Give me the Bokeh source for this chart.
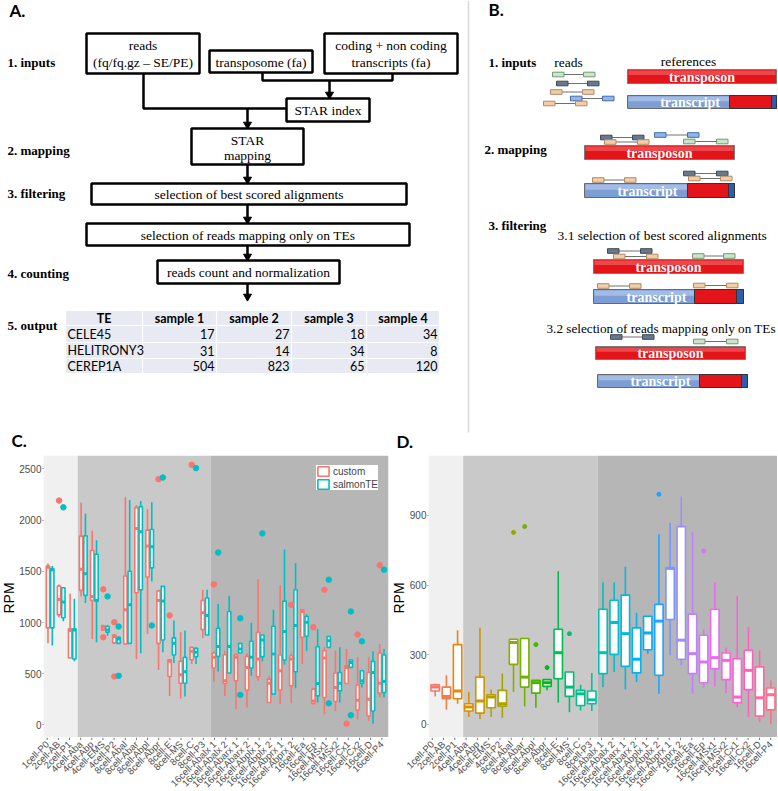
import numpy as np
from math import pi
from bokeh.plotting import figure
from bokeh.models import Range1d, FixedTicker, Legend, LegendItem, ColumnDataSource
from bokeh.layouts import column, row
from bokeh.embed import file_html
from bokeh.resources import INLINE
from bokeh.core.properties import value

# ---------------- data ----------------
categories = ["1cell-P0", "2cell-AB", "2cell-P1", "4cell-Aba", "4cell-Abp", "4cell-EMS", "4cell-P2",
              "8cell-Abal", "8cell-Abar", "8cell-Abpl", "8cell-Abpr", "8cell-E", "8cell-MS", "8cell-C", "8cell-P3",
              "16cell-Abalx 1", "16cell-Abalx 2", "16cell-Abarx 1", "16cell-Abarx 2", "16cell-Abplx 1",
              "16cell-Abplx 2", "16cell-Abprx 1", "16cell-Abprx 2", "16cell-Ea", "16cell-Ep", "16cell-MSx1",
              "16cell-MSx2", "16cell-Cx1", "16cell-Cx2", "16cell-D", "16cell-P4"]
stage_groups = [["1cell", "2cell"], ["4cell", "8cell"], ["16cell"]]
stage_colors = ["#F0F0F0", "#C9C9C9", "#B6B6B6"]

# table of panel A
te_names = ["CELE45", "HELITRONY3", "CEREP1A"]
sample_names = ["sample 1", "sample 2", "sample 3", "sample 4"]
sample1 = [17, 31, 504]
sample2 = [27, 14, 823]
sample3 = [18, 34, 65]
sample4 = [34, 8, 120]

# panel C: custom
custom_q1 = [948, 1075, 654, 1314, 1216, 928, 801, 791, 1291, 1444, 797, 474, 408, 637, 931, 556, 405, 431, 340, 471,
             219, 340, 382, 856, 209, 268, 229, 405, 147, 88, 311]
custom_med = [1540, 1225, 921, 1520, 1255, 954, 863, 1124, 1918, 1748, 1216, 621, 490, 719, 1095, 660, 431, 660, 562,
              644, 408, 529, 644, 1108, 235, 654, 366, 562, 242, 252, 408]
custom_q3 = [1552, 1356, 938, 1843, 1706, 970, 879, 1454, 2121, 1902, 1307, 637, 621, 758, 1216, 703, 686, 686, 670,
             905, 448, 683, 676, 1124, 350, 725, 507, 578, 392, 513, 703]
custom_lo = [797, 1050, 654, 1255, 840, 920, 790, 781, 644, 889, 536, 284, 258, 595, 850, 421, 284, 154, 170, 431, 219,
             203, 212, 595, 209, 105, 137, 405, 56, 39, 268]
custom_hi = [1575, 1370, 1281, 2170, 1895, 975, 885, 2222, 2147, 2105, 1320, 637, 905, 758, 1320, 720, 725, 700, 700,
             1422, 480, 1363, 700, 1130, 360, 760, 725, 742, 660, 660, 791]
custom_out_cat = [2, 6, 6, 7, 7, 11, 12, 14, 16, 23, 25, 26, 28, 29, 31]
custom_out_val = [2190, 1324, 856, 1003, 474, 2399, 1069, 2539, 1373, 1173, 954, 1320, 13, 882, 1559]

# panel C: salmonTE
salmon_q1 = [948, 1046, 644, 1265, 1209, 905, 797, 797, 1320, 1533, 830, 683, 408, 667, 879, 670, 507, 703, 556, 667,
             301, 634, 520, 866, 284, 758, 333, 562, 408, 137, 317]
salmon_med = [1516, 1200, 928, 1477, 1216, 928, 840, 1173, 1886, 1739, 1209, 797, 520, 709, 1069, 765, 765, 742, 660,
              830, 693, 912, 971, 1003, 405, 823, 408, 611, 431, 513, 425]
salmon_q3 = [1526, 1340, 938, 1846, 1667, 961, 856, 1500, 2131, 1908, 1353, 850, 660, 748, 1239, 944, 1108, 797, 817,
             879, 964, 1209, 1320, 1059, 765, 863, 513, 634, 529, 621, 683]
salmon_lo = [775, 1013, 621, 1190, 807, 870, 790, 797, 699, 1400, 709, 605, 278, 595, 879, 523, 507, 703, 480, 621,
             301, 588, 359, 725, 219, 758, 219, 562, 366, 13, 268]
salmon_hi = [1552, 1345, 1232, 2065, 1804, 975, 860, 2196, 2186, 2173, 1353, 1020, 921, 758, 1320, 1180, 1258, 797,
             997, 880, 1124, 1712, 1582, 1080, 938, 870, 758, 634, 540, 720, 742]
salmon_out_cat = [2, 6, 7, 7, 10, 11, 14, 16, 18, 18, 20, 26, 26, 28, 28, 29, 31]
salmon_out_val = [2124, 1255, 961, 480, 971, 2415, 2507, 1683, 1042, 294, 1870, 1418, 212, 1108, 95, 817, 1516]

# panel D
d_q1 = [144, 111, 111, 58, 49, 72, 79, 259, 161, 135, 164, 197, 121, 82, 89, 219, 302, 250, 222, 322, 212, 452, 281,
        219, 180, 240, 193, 94, 150, 36, 63]
d_med = [161, 120, 144, 75, 101, 118, 89, 353, 204, 180, 180, 309, 161, 132, 106, 309, 439, 391, 281, 394, 445, 672,
         363, 305, 269, 288, 276, 118, 233, 115, 128]
d_q3 = [171, 161, 344, 89, 204, 128, 147, 367, 370, 190, 193, 410, 226, 147, 144, 496, 535, 557, 416, 466, 517, 675,
        852, 475, 384, 496, 308, 283, 319, 248, 157]
d_lo = [121, 63, 89, 32, 24, 32, 29, 140, 78, 72, 147, 94, 53, 60, 58, 161, 226, 151, 183, 305, 132, 298, 255, 132,
        158, 164, 135, 75, 32, 10, 3]
d_hi = [175, 212, 406, 140, 416, 151, 219, 367, 370, 190, 193, 660, 226, 171, 222, 612, 612, 679, 481, 466, 819, 869,
        981, 830, 410, 612, 331, 554, 420, 319, 190]
d_out_cat = [8, 9, 10, 11, 13, 21, 25]
d_out_val = [827, 852, 344, 245, 391, 991, 747]

C_TICKS = [0, 500, 1000, 1500, 2000, 2500]
D_TICKS = [0, 300, 600, 900]

RED, TEAL = "#F8766D", "#00BFC4"
SERIF = "Liberation Serif"
SANS = "Liberation Sans"


def hcl_hex(h, c=100.0, l=65.0):
    hr = np.deg2rad(h)
    u, v = c * np.cos(hr), c * np.sin(hr)
    Xn, Yn, Zn = 95.047, 100.0, 108.883
    Y = Yn * ((l + 16) / 116) ** 3
    den = Xn + 15 * Yn + 3 * Zn
    un, vn = 4 * Xn / den, 9 * Yn / den
    up, vp = u / (13 * l) + un, v / (13 * l) + vn
    X = Y * 9 * up / (4 * vp)
    Z = Y * (12 - 3 * up - 20 * vp) / (4 * vp)
    X, Y, Z = X / 100, Y / 100, Z / 100
    rgb = [3.240479 * X - 1.537150 * Y - 0.498535 * Z,
           -0.969256 * X + 1.875992 * Y + 0.041556 * Z,
           0.055648 * X - 0.204043 * Y + 1.057311 * Z]
    out = []
    for t in rgb:
        t = min(max(t, 0.0), 1.0)
        t = 12.92 * t if t <= 0.0031308 else 1.055 * t ** (1 / 2.4) - 0.055
        out.append(int(round(255 * t)))
    return "#%02x%02x%02x" % tuple(out)


def blank_fig(width, height, xr, yr):
    f = figure(width=width, height=height, x_range=Range1d(*xr), y_range=Range1d(*yr),
               output_backend="svg", toolbar_location=None, x_axis_location=None, y_axis_location=None,
               min_border=0, outline_line_color=None)
    f.grid.visible = False
    return f


# ---------------- diagram (panels A, B) ----------------
TOP_H = 452
d = blank_fig(777, TOP_H, (0, 777), (TOP_H, 0))


def T(x, y, s, size="13.5px", font=SERIF, style="normal", color="black", align="center", baseline="middle"):
    d.text(x=[x], y=[y], text=[s], text_font=value(font), text_font_size=size, text_font_style=style,
           text_color=color, text_align=align, text_baseline=baseline)


def box(x0, y0, x1, y1, lw=2.5):
    d.quad(left=[x0], right=[x1], top=[y0], bottom=[y1], fill_color="white", line_color="black", line_width=lw)


def poly(xs, ys, lw=2.5, color="black"):
    d.line(x=xs, y=ys, line_color=color, line_width=lw)


def arrow(x, y0, y1):
    d.line(x=[x, x], y=[y0, y1 - 4], line_color="black", line_width=2.5)
    d.scatter(x=[x], y=[y1 - 4], marker="inverted_triangle", size=8, color="black")


# panel letters
for xx, yy, s in [(9, 10, "A."), (488, 8.5, "B."), (11, 440, "C."), (396, 441, "D.")]:
    T(xx, yy, s, size="17px", font="Lato", style="bold", align="left", baseline="middle")

# separator
d.line(x=[468, 468], y=[0, 432], line_color="#D9D9D9", line_width=1.5)

# A steps
for yy, s in [(62, "1. inputs"), (150, "2. mapping"), (193, "3. filtering"), (273, "4. counting"), (325, "5. output")]:
    T(7, yy, s, size="13px", style="bold", align="left")

box(86, 33, 199, 73)
T(142.5, 45, "reads")
T(142.5, 62, "(fq/fq.gz \u2013 SE/PE)")
box(209, 50, 312, 72)
T(260.5, 61.5, "transposome (fa)")
box(324, 33, 457, 73)
T(390.5, 45, "coding + non coding")
T(390.5, 62, "transcripts (fa)")
poly([262, 262, 392, 392], [72, 80, 80, 73])
arrow(329, 80, 98)
box(286, 98, 369, 121)
T(327.5, 110, "STAR index")
poly([143, 143, 286], [73, 108, 108])
arrow(247, 108, 128)
box(191, 128, 303, 164)
T(247, 140, "STAR")
T(247, 154.5, "mapping")
arrow(247, 164, 183)
box(91, 183, 406, 204)
T(248.5, 194, "selection of best scored alignments")
arrow(247, 204, 223)
box(86, 223, 409, 245)
T(247.5, 234.5, "selection of reads mapping only on TEs")
arrow(247, 245, 260)
box(157, 260, 339, 283)
T(248, 272, "reads count and normalization")
arrow(247, 283, 300)

# table
col_edges = [65, 142, 216, 291, 366, 439]
row_edges = [310, 325, 342, 358, 373]
cells_l, cells_r, cells_t, cells_b = [], [], [], []
for i in range(len(row_edges) - 1):
    for j in range(len(col_edges) - 1):
        cells_l.append(col_edges[j] + 0.6)
        cells_r.append(col_edges[j + 1] - 0.6)
        cells_t.append(row_edges[i] + 0.6)
        cells_b.append(row_edges[i + 1] - 0.6)
d.quad(left=cells_l, right=cells_r, top=cells_t, bottom=cells_b, fill_color="#E8EAF3", line_color=None)
headers = ["TE"] + sample_names
for j, h in enumerate(headers):
    T((col_edges[j] + col_edges[j + 1]) / 2, (row_edges[0] + row_edges[1]) / 2, h, size="12.5px", font="Lato",
      style="bold")
cols = [sample1, sample2, sample3, sample4]
for i, name in enumerate(te_names):
    yc = (row_edges[i + 1] + row_edges[i + 2]) / 2
    T(col_edges[0] + 2, yc, name, size="12.5px", font="Lato", align="left")
    for j, colv in enumerate(cols):
        T(col_edges[j + 2] - 2, yc, str(colv[i]), size="12.5px", font="Lato", align="right")

# B
READ_COL = {"green": ("#CBE4CB", "#6E9B6E"), "dark": ("#6A788C", "#3E4858"),
            "tan": ("#F1CDA8", "#B08A66"), "blue": ("#93B6E8", "#3F6CB5")}


def read_pair(x0, x1, y, kind, w=11.5, h=4.6):
    fc, lc = READ_COL[kind]
    d.line(x=[x0 + w, x1], y=[y, y], line_color="#707070", line_width=1)
    d.quad(left=[x0, x1], right=[x0 + w, x1 + w], top=[y - h / 2] * 2, bottom=[y + h / 2] * 2,
           fill_color=fc, line_color=lc, line_width=1)


def transposon(x0, x1, y0, y1):
    d.quad(left=[x0], right=[x1], top=[y0], bottom=[y1], fill_color="#E3151B", line_color="#7A7A7A", line_width=1)
    d.quad(left=[x0 + 1], right=[x1 - 1], top=[y0 + 1], bottom=[y0 + (y1 - y0) * 0.4], fill_color="#F26A6D",
           fill_alpha=0.6, line_color=None)
    T((x0 + x1) / 2, (y0 + y1) / 2 + 0.5, "transposon", size="14px", style="bold", color="white")


def transcript(x0, x1, y0, y1, s1, s2):
    d.quad(left=[x0], right=[x1], top=[y0], bottom=[y1], fill_color="#7C9ED4", line_color="#6A6A6A", line_width=1)
    d.quad(left=[x0 + 1], right=[s1], top=[y0 + 1], bottom=[y0 + (y1 - y0) * 0.45], fill_color="#B4C9EC",
           fill_alpha=0.7, line_color=None)
    d.quad(left=[s1], right=[s2], top=[y0], bottom=[y1], fill_color="#E3151B", line_color="#333333", line_width=1)
    d.quad(left=[s2], right=[x1], top=[y0], bottom=[y1], fill_color="#2F5DAA", line_color="#333333", line_width=1)
    T(x0 + 0.42 * (x1 - x0), (y0 + y1) / 2 + 0.5, "transcript", size="14px", style="bold", color="white")


T(488, 62, "1. inputs", size="13px", style="bold", align="left")
T(568, 62, "reads")
T(688, 61, "references")
for a, b, y, k in [(552, 583, 74, "green"), (556, 587, 83, "dark"), (550, 582, 91.5, "tan"),
                   (570, 602, 98, "blue"), (543, 575, 103, "tan")]:
    read_pair(a, b, y, k)
transposon(627, 776, 69, 83)
transcript(627, 776, 95, 108, 729, 771)

T(484, 149, "2. mapping", size="13px", style="bold", align="left")
for a, b, y, k in [(600, 632, 137, "dark"), (604, 637, 141.5, "tan"), (654, 687, 134.5, "blue"),
                   (683, 716, 141, "green"), (592, 624, 179.5, "tan"), (683, 716, 173, "dark"),
                   (688, 720, 178, "tan")]:
    read_pair(a, b, y, k)
transposon(584, 734, 145, 159)
transcript(584, 734, 183, 197, 687, 728)

T(488, 225, "3. filtering", size="13px", style="bold", align="left")
T(557, 235, "3.1 selection of best scored alignments", align="left")
for a, b, y, k in [(607, 640, 250.5, "dark"), (613, 646, 256, "tan"), (692, 723, 255.5, "green"),
                   (597, 629, 285.5, "tan"), (693, 726, 285, "tan")]:
    read_pair(a, b, y, k)
transposon(593, 743, 259, 273)
transcript(593, 743, 289, 303, 694, 736)

T(546, 328, "3.2 selection of reads mapping only on TEs", size="13.2px", align="left")
for a, b, y, k in [(610, 642, 336.5, "dark"), (693, 726, 341, "green")]:
    read_pair(a, b, y, k)
transposon(595, 745, 346, 359)
transcript(597, 747, 374, 387, 699, 741)

# ---------------- panels C & D ----------------
idx = np.arange(1, len(categories) + 1, dtype=float)
XR = (0.4, len(categories) + 0.6)
ROW_H = 338
MAIN_H = 285      # frame top at 3 px, frame bottom at 285 px of the row
LAB_H = ROW_H - MAIN_H


def main_fig(width, yr, ticks, border_left, border_right):
    p = figure(width=width, height=MAIN_H, x_range=Range1d(*XR), y_range=Range1d(*yr),
               output_backend="svg", toolbar_location=None, x_axis_location=None,
               min_border_left=border_left, min_border_right=border_right, min_border_top=3, min_border_bottom=0,
               outline_line_color=None, background_fill_color="white")
    p.grid.visible = False
    stages = [c.split("-")[0] for c in categories]
    for g, col in zip(stage_groups, stage_colors):
        members = [i + 1 for i, s in enumerate(stages) if s in g]
        left = min(members) - 0.5 if min(members) > 1 else XR[0]
        right = max(members) + 0.5 if max(members) < len(categories) else XR[1]
        p.quad(left=[left], right=[right], bottom=[yr[0]], top=[yr[1]], fill_color=col, line_color=None)
    ax = p.yaxis[0]
    ax.ticker = FixedTicker(ticks=ticks)
    ax.axis_line_color = None
    ax.major_tick_line_color = "#7A7A7A"
    ax.major_tick_out = 1
    ax.major_tick_in = 0
    ax.minor_tick_line_color = None
    ax.major_label_text_font = SANS
    ax.major_label_text_font_size = "10px"
    ax.major_label_text_color = "#4D4D4D"
    ax.major_label_standoff = 1
    return p


def rpm_strip(width, xc):
    f = blank_fig(width, MAIN_H, (0, width), (0, MAIN_H))
    f.text(x=[xc], y=[MAIN_H - 144], text=["RPM"], angle=pi / 2, text_align="center",
           text_baseline="middle", text_font=value(SANS), text_font_size="14px", text_color="black")
    return f


def label_strip(width, frame_left, frame_right):
    ppu = (width - frame_left - frame_right) / (XR[1] - XR[0])
    f = blank_fig(width, LAB_H, (XR[0] - frame_left / ppu, XR[1] + frame_right / ppu), (0, LAB_H))
    f.segment(x0=idx, y0=[LAB_H] * len(idx), x1=idx, y1=[LAB_H - 2.5] * len(idx), line_color="#7A7A7A",
              line_width=1)
    f.text(x=idx, y=[LAB_H - 5] * len(idx), text=categories, angle=pi / 4, text_align="right",
           text_baseline="middle", text_font=value(SANS), text_font_size="9.5px", text_color="#4D4D4D")
    return f


def draw_boxes(p, xs, q1, med, q3, lo, hi, color, width, lw=1.6, mw=3.0):
    xs = np.asarray(xs, dtype=float)
    src = ColumnDataSource(dict(x=xs, left=xs - width / 2, right=xs + width / 2, q1=q1, med=med, q3=q3,
                                lo=lo, hi=hi, color=color))
    p.segment(x0="x", y0="q3", x1="x", y1="hi", source=src, line_color="color", line_width=lw)
    p.segment(x0="x", y0="q1", x1="x", y1="lo", source=src, line_color="color", line_width=lw)
    r = p.quad(left="left", right="right", bottom="q1", top="q3", source=src, fill_color="white",
               line_color="color", line_width=lw)
    p.segment(x0="left", y0="med", x1="right", y1="med", source=src, line_color="color", line_width=mw)
    return r


# C  (block 390 px wide: frame from 40 to 388)
C_RPM_W, C_W, C_FL, C_FR = 16, 390, 40, 2
pC = main_fig(C_W - C_RPM_W, (-122, 2630), C_TICKS, C_FL - C_RPM_W, C_FR)
off = 0.195
rc = draw_boxes(pC, idx - off, custom_q1, custom_med, custom_q3, custom_lo, custom_hi, [RED] * len(idx), 0.3)
rs = draw_boxes(pC, idx + off, salmon_q1, salmon_med, salmon_q3, salmon_lo, salmon_hi, [TEAL] * len(idx), 0.3)
pC.scatter(x=np.array(custom_out_cat) - off, y=custom_out_val, size=5.5, color=RED)
pC.scatter(x=np.array(salmon_out_cat) + off, y=salmon_out_val, size=5.5, color=TEAL)
leg = Legend(items=[LegendItem(label="custom", renderers=[rc]), LegendItem(label="salmonTE", renderers=[rs])],
             location="top_right", margin=10, padding=3, spacing=1, label_text_font=SANS,
             label_text_font_size="10px", glyph_width=14, glyph_height=12, label_height=12, label_standoff=3,
             border_line_color=None, background_fill_color="white", background_fill_alpha=1.0)
pC.add_layout(leg)
blockC = column(row(rpm_strip(C_RPM_W, 8.2), pC, spacing=0), label_strip(C_W, C_FL, C_FR), spacing=0)

# D  (block 387 px wide: frame from 35 to 387)
D_RPM_W, D_W, D_FL, D_FR = 16, 387, 35, 0
pD = main_fig(D_W - D_RPM_W, (-56, 1158), D_TICKS, D_FL - D_RPM_W, D_FR)
d_colors = [hcl_hex(15 + 360.0 * i / len(categories)) for i in range(len(categories))]
draw_boxes(pD, idx, d_q1, d_med, d_q3, d_lo, d_hi, d_colors, 0.75)
pD.scatter(x=d_out_cat, y=d_out_val, size=4, color=[d_colors[c - 1] for c in d_out_cat])
blockD = column(row(rpm_strip(D_RPM_W, 8.0), pD, spacing=0), label_strip(D_W, D_FL, D_FR), spacing=0)

layout = column(d, row(blockC, blockD, spacing=0), spacing=0)
open("out.html", "w").write(file_html(layout, INLINE))
